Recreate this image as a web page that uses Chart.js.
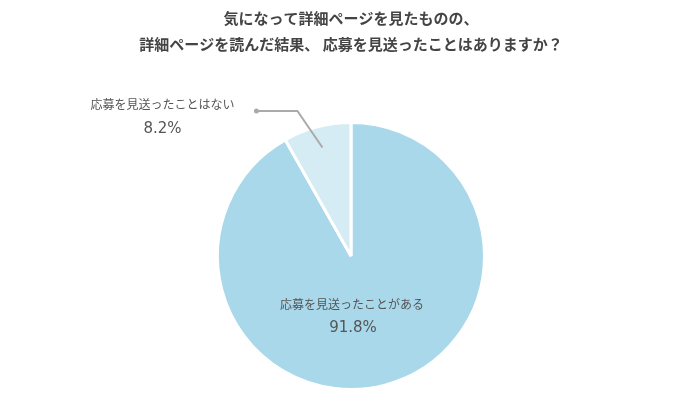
<!DOCTYPE html>
<html><head><meta charset="utf-8">
<script src="https://cdn.jsdelivr.net/npm/chart.js@4"></script>
<style>html,body{margin:0;padding:0;background:#fff}#wrap{width:700px;height:400px}</style>
</head><body><div id="wrap"><canvas id="c" width="700" height="400"></canvas></div>
<script>
const titleLines = ["気になって詳細ページを見たものの、", "詳細ページを読んだ結果、 応募を見送ったことはありますか？"];
const categories = ["応募を見送ったことがある", "応募を見送ったことはない"];
const values = [91.8, 8.2];
const colors = ["#a9d8ea", "#d5ecf4"];
const FONT = '"Noto Sans CJK JP", "Noto Sans", sans-serif';
const NUMFONT = '"DejaVu Sans", sans-serif';

const labelPlugin = {
  id: 'labels',
  afterDraw(chart) {
    const ctx = chart.ctx;
    ctx.save();
    ctx.textAlign = 'center';
    ctx.textBaseline = 'middle';
    // title
    ctx.fillStyle = '#444';
    ctx.font = 'bold 15px ' + FONT;
    ctx.fillText(titleLines[0], 351, 18);
    ctx.fillText(titleLines[1], 351, 44);

    const meta = chart.getDatasetMeta(0);
    const big = meta.data[0], small = meta.data[1];
    const cx = big.x, cy = big.y, r = big.outerRadius;
    // inner label
    ctx.fillStyle = '#555';
    ctx.font = '12px ' + FONT;
    ctx.fillText(categories[0], cx + 1, cy + 48);
    ctx.font = '15px ' + NUMFONT;
    ctx.fillText(values[0].toFixed(1) + '%', cx + 2, cy + 72);

    // leader line for small slice
    const mid = (small.startAngle + small.endAngle) / 2;
    const ex = cx + Math.cos(mid) * r * 0.84;
    const ey = cy + Math.sin(mid) * r * 0.84;
    const kx = ex - 25, ky = cy - 145;
    const dx = kx - 41;
    ctx.strokeStyle = '#aaa';
    ctx.lineWidth = 2;
    ctx.beginPath();
    ctx.moveTo(ex, ey);
    ctx.lineTo(kx, ky);
    ctx.lineTo(dx, ky);
    ctx.stroke();
    ctx.fillStyle = '#aaa';
    ctx.beginPath();
    ctx.arc(dx, ky, 2.5, 0, Math.PI * 2);
    ctx.fill();

    ctx.fillStyle = '#555';
    ctx.font = '12px ' + FONT;
    ctx.fillText(categories[1], dx - 94, ky - 7);
    ctx.font = '15px ' + NUMFONT;
    ctx.fillText(values[1].toFixed(1) + '%', dx - 94, ky + 18);
    ctx.restore();
  }
};

new Chart(document.getElementById('c'), {
  type: 'pie',
  data: {
    labels: categories,
    datasets: [{
      data: values,
      backgroundColor: colors,
      borderColor: '#fff',
      borderWidth: 3
    }]
  },
  options: {
    responsive: false,
    animation: false,
    layout: { padding: { top: 121, bottom: 9, left: 2, right: 0 } },
    plugins: { legend: { display: false }, title: { display: false }, tooltip: { enabled: false } }
  },
  plugins: [labelPlugin]
});
</script>
</body></html>
